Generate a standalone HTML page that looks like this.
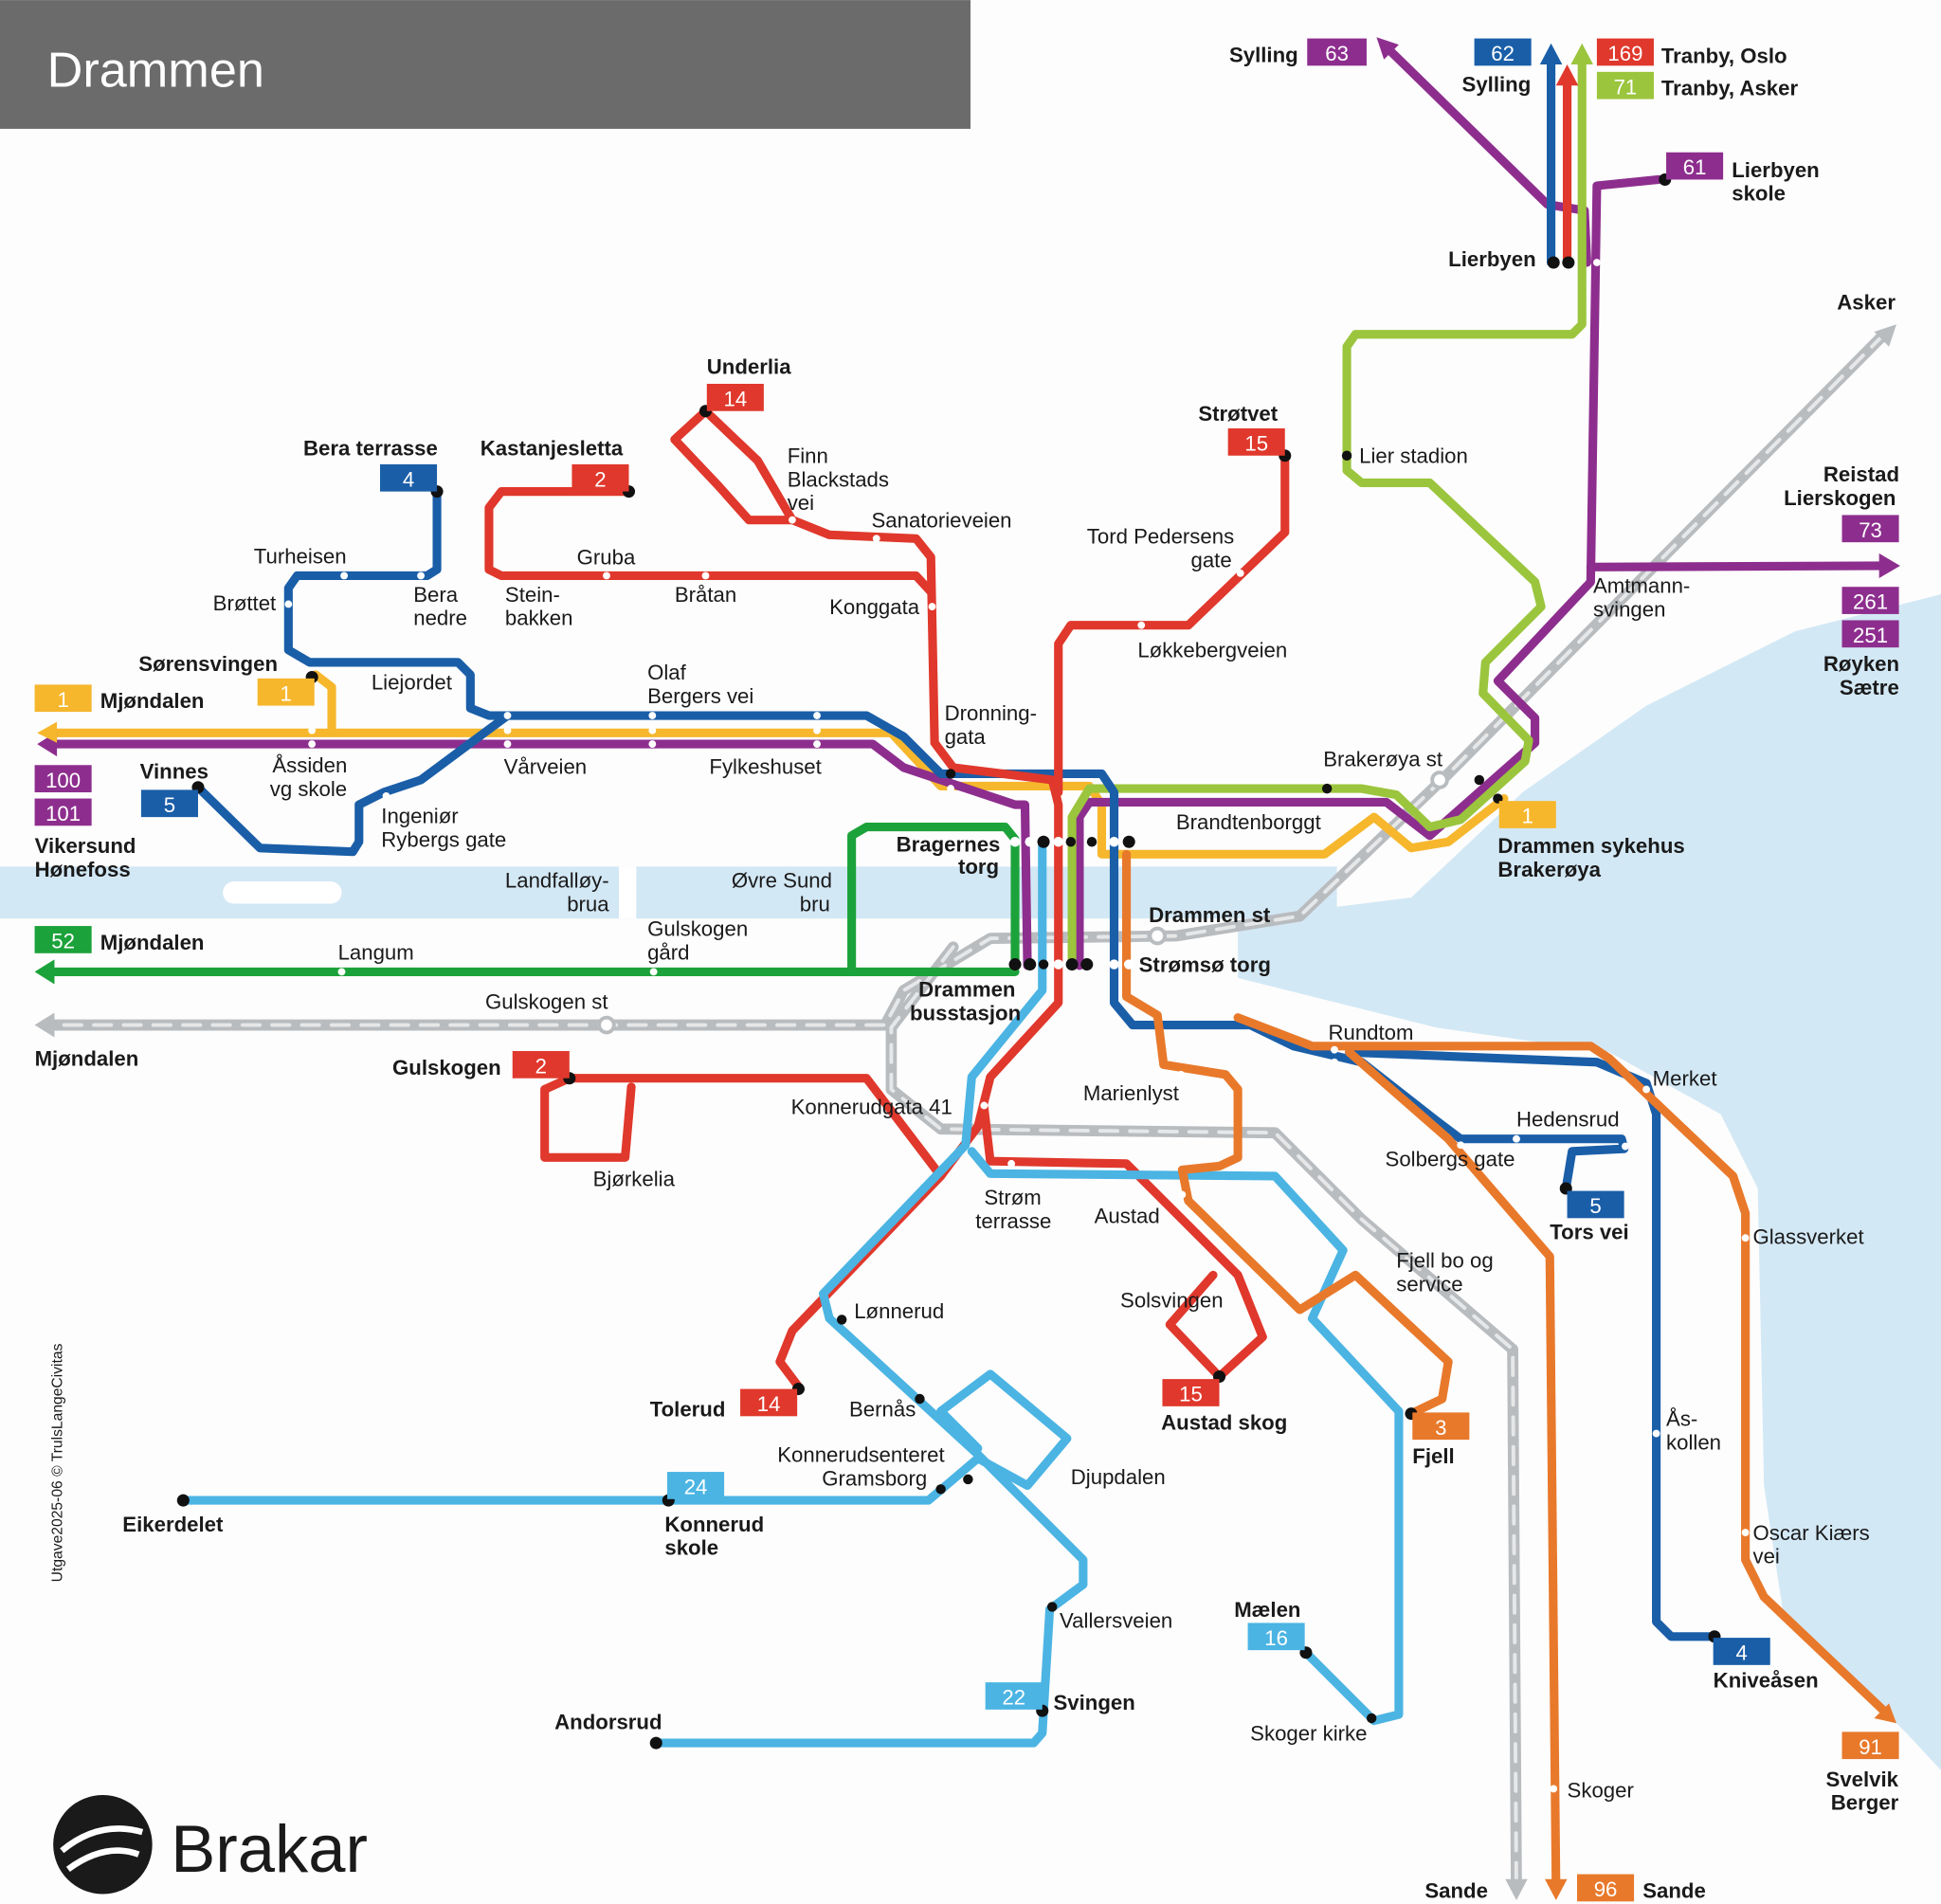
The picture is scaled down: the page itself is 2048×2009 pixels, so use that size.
<!DOCTYPE html>
<html><head><meta charset="utf-8"><style>
html,body{margin:0;padding:0;background:#fdfdfd}
svg{display:block}
text{font-family:"Liberation Sans",sans-serif;font-size:17px;fill:#1a1a1a}
.b{font-weight:bold}
.n{fill:#fff;font-size:17px;text-anchor:middle}
</style></head><body>
<svg width="2048" height="2009" viewBox="0 0 1568 1538" xmlns="http://www.w3.org/2000/svg">
<rect width="1568" height="1538" fill="#fdfdfd"/>
<!-- water -->
<g fill="#d3e8f5">
<rect x="0" y="700" width="1080" height="42"/>
<polygon points="1000,745 1060,735 1140,725 1230,640 1330,570 1450,510 1568,480 1568,1430 1540,1400 1440,1300 1425,1200 1420,960 1390,900 1300,850 1160,830 1060,805 1000,790"/>
</g>
<rect x="180" y="712" width="96" height="18" rx="9" fill="#fff"/>
<rect x="500" y="700" width="14" height="42" fill="#fff"/>
<!-- header -->
<rect x="0" y="0" width="784" height="104" fill="#6b6b6b"/>
<text x="38" y="70" style="font-size:40px;fill:#fff">Drammen</text>
<!-- railway -->
<g fill="none" stroke-linejoin="round" stroke-linecap="round">
<g stroke="#b9bcbf" stroke-width="9">
<polyline points="1522,270 1170,625 1050,740 950,756 800,758 730,800 715,828 40,828"/>
<polyline points="770,765 720,830 720,880 760,912 1030,915 1100,985 1222,1090 1225,1525"/>
</g>
<g stroke="#e6e7e8" stroke-width="3" stroke-dasharray="14 10">
<polyline points="1522,270 1170,625 1050,740 950,756 800,758 730,800 715,828 40,828"/>
<polyline points="770,765 720,830 720,880 760,912 1030,915 1100,985 1222,1090 1225,1525"/>
</g>
<g stroke-width="7">
<!-- yellow -->
<polyline stroke="#f6b72d" points="45,592 720,592 760,635 880,635 890,650 890,690 1070,690 1110,660 1140,685 1170,680 1215,645"/>
<polyline stroke="#f6b72d" points="255,545 268,555 268,590"/>
<!-- purple -->
<polyline stroke="#8d2e8e" points="40,601 705,601 730,620 820,650 828,650 830,780"/>
<polyline stroke="#8d2e8e" points="872,780 872,660 880,648 1120,648 1155,675 1240,600 1240,580 1210,550 1285,470 1290,150 1340,145"/>
<polyline stroke="#8d2e8e" points="1285,458 1525,457"/>
<polyline stroke="#8d2e8e" points="1120,38 1250,165 1280,170 1282,212"/>
<!-- lime -->
<polyline stroke="#9bc53d" points="1278,45 1278,262 1270,270 1095,270 1088,280 1088,380 1100,390 1155,390 1240,470 1245,490 1200,535 1198,560 1235,598 1232,615 1180,662 1155,668 1128,642 1100,637 880,637 866,660 866,780"/>
<!-- blue -->
<polyline stroke="#1a5ea8" points="1253,45 1253,212"/>
<polyline stroke="#e0382c" points="1266,62 1266,212"/>
<polyline stroke="#1a5ea8" points="353,397 353,460 345,465 240,465 233,475 233,525 250,535 370,535 380,545 380,572 395,578 700,578 730,595 760,625 890,625 900,640 900,810 915,828 1010,828 1045,845 1100,858 1160,905 1180,920 1310,920 1312,928 1270,930 1265,960"/>
<polyline stroke="#1a5ea8" points="1090,850 1290,858 1330,875 1338,900 1338,1310 1350,1322 1385,1322"/>
<polyline stroke="#1a5ea8" points="160,636 210,685 285,688 290,680 290,650 310,640 340,630 410,578"/>
<!-- red -->
<polyline stroke="#e0382c" points="570,332 612,372 640,420 670,432 740,435 752,450 755,600 770,620 850,630 855,650 855,810 800,870 790,910 760,950 640,1075 630,1100 645,1120"/>
<polyline stroke="#e0382c" points="570,332 545,355 580,392 605,420 640,420"/>
<polyline stroke="#e0382c" points="508,397 405,397 395,410 395,460 405,465 740,465 752,478"/>
<polyline stroke="#e0382c" points="1038,368 1038,430 960,505 865,505 855,520 855,640"/>
<polyline stroke="#e0382c" points="460,871 700,871 760,950"/>
<polyline stroke="#e0382c" points="460,871 440,880 440,935 505,935 510,878"/>
<polyline stroke="#e0382c" points="795,895 800,938 910,940 1000,1030 1020,1080 985,1112 945,1070 980,1030"/>
<!-- light blue -->
<polyline stroke="#4bb4e3" points="842,680 842,800 785,870 780,925 665,1045 670,1065 790,1175 875,1260 875,1280 848,1300 842,1400 835,1408 530,1408"/>
<polyline stroke="#4bb4e3" points="148,1212 750,1212 790,1178 830,1200 862,1162 800,1110 760,1140 790,1170"/>
<polyline stroke="#4bb4e3" points="785,930 800,948 1030,950 1085,1010 1060,1065 1130,1140 1130,1385 1110,1390 1055,1335"/>
<!-- orange -->
<polyline stroke="#e8792b" points="910,690 910,805 935,820 940,860 990,868 1000,880 1000,935 985,942 955,945 960,970 1050,1058 1095,1030 1170,1100 1165,1130 1140,1142"/>
<polyline stroke="#e8792b" points="1000,822 1060,845 1285,845 1300,855 1400,950 1410,980 1410,1260 1425,1290 1525,1385"/>
<polyline stroke="#e8792b" points="1090,850 1170,920 1252,1015 1257,1525"/>
<!-- green -->
<polyline stroke="#1ca23a" points="40,785 820,785"/>
<polyline stroke="#1ca23a" points="688,785 688,675 700,668 812,668 820,678 820,780"/>
</g>
</g>
<!-- arrowheads -->
<g fill="#8d2e8e"><polygon points="30,601 46,591 46,611"/><polygon points="1535,457 1518,447 1518,467"/><polygon points="1112,30 1130,36 1118,48"/></g>
<polygon points="30,592 46,583 46,600" fill="#f6b72d"/>
<polygon points="28,785 44,775 44,795" fill="#1ca23a"/>
<polygon points="28,828 44,818 44,838" fill="#b9bcbf"/>
<polygon points="1532,262 1514,268 1526,280" fill="#b9bcbf"/>
<polygon points="1225,1535 1216,1518 1234,1518" fill="#b9bcbf"/>
<polygon points="1257,1535 1248,1518 1266,1518" fill="#e8792b"/>
<polygon points="1532,1392 1514,1388 1526,1376" fill="#e8792b"/>
<polygon points="1253,35 1244,52 1262,52" fill="#1a5ea8"/>
<polygon points="1266,52 1257,69 1275,69" fill="#e0382c"/>
<polygon points="1278,35 1269,52 1287,52" fill="#9bc53d"/>
<!-- stops -->
<g fill="#111">
<circle cx="570" cy="332" r="5"/><circle cx="508" cy="397" r="5"/><circle cx="353" cy="397" r="5"/><circle cx="1038" cy="368" r="5"/>
<circle cx="252" cy="547" r="5"/><circle cx="160" cy="636" r="5"/><circle cx="460" cy="871" r="5"/><circle cx="645" cy="1122" r="5"/>
<circle cx="985" cy="1112" r="5"/><circle cx="1140" cy="1142" r="5"/><circle cx="1055" cy="1335" r="5"/><circle cx="842" cy="1382" r="5"/>
<circle cx="530" cy="1408" r="5"/><circle cx="148" cy="1212" r="5"/><circle cx="540" cy="1212" r="5"/><circle cx="1385" cy="1322" r="5"/>
<circle cx="1265" cy="960" r="5"/><circle cx="1345" cy="145" r="5"/><circle cx="1255" cy="212" r="5"/><circle cx="1267" cy="212" r="5"/>
<circle cx="1195" cy="630" r="4"/><circle cx="1210" cy="645" r="4"/><circle cx="768" cy="625" r="4"/>
<circle cx="843" cy="680" r="5"/><circle cx="865" cy="680" r="4"/><circle cx="882" cy="680" r="4"/><circle cx="912" cy="680" r="5"/>
<circle cx="820" cy="779" r="5"/><circle cx="832" cy="779" r="5"/><circle cx="843" cy="779" r="4"/><circle cx="866" cy="779" r="5"/><circle cx="878" cy="779" r="5"/>
<circle cx="1088" cy="368" r="4"/><circle cx="1072" cy="637" r="4"/><circle cx="680" cy="1066" r="4"/><circle cx="743" cy="1130" r="4"/>
<circle cx="760" cy="1203" r="4"/><circle cx="782" cy="1195" r="4"/><circle cx="850" cy="1298" r="4"/><circle cx="1108" cy="1388" r="4"/>
</g>
<g fill="#fff">
<circle cx="1163" cy="630" r="6" stroke="#b9bcbf" stroke-width="3"/><circle cx="935" cy="756" r="6" stroke="#b9bcbf" stroke-width="3"/><circle cx="490" cy="828" r="6" stroke="#b9bcbf" stroke-width="3"/>
<circle cx="820" cy="680" r="4"/><circle cx="832" cy="680" r="4"/><circle cx="855" cy="680" r="4"/><circle cx="900" cy="680" r="4"/><circle cx="855" cy="779" r="4"/><circle cx="900" cy="779" r="4"/><circle cx="912" cy="779" r="4"/>
<circle cx="278" cy="465" r="3"/><circle cx="340" cy="465" r="3"/><circle cx="233" cy="488" r="3"/><circle cx="490" cy="465" r="3"/><circle cx="570" cy="465" r="3"/><circle cx="753" cy="490" r="3"/>
<circle cx="410" cy="578" r="3"/><circle cx="527" cy="578" r="3"/><circle cx="660" cy="578" r="3"/><circle cx="252" cy="590" r="3"/><circle cx="410" cy="590" r="3"/><circle cx="527" cy="590" r="3"/><circle cx="660" cy="590" r="3"/>
<circle cx="252" cy="601" r="3"/><circle cx="410" cy="601" r="3"/><circle cx="527" cy="601" r="3"/><circle cx="660" cy="601" r="3"/><circle cx="768" cy="637" r="3"/>
<circle cx="312" cy="643" r="3"/><circle cx="276" cy="785" r="3"/><circle cx="528" cy="785" r="3"/><circle cx="640" cy="420" r="3"/><circle cx="708" cy="435" r="3"/>
<circle cx="922" cy="505" r="3"/><circle cx="1002" cy="463" r="3"/><circle cx="1278" cy="468" r="3"/><circle cx="1290" cy="212" r="3"/><circle cx="1078" cy="848" r="3"/><circle cx="1078" cy="858" r="3"/>
<circle cx="1225" cy="920" r="3"/><circle cx="1313" cy="926" r="3"/><circle cx="1330" cy="880" r="3"/><circle cx="1410" cy="1000" r="3"/><circle cx="1410" cy="1238" r="3"/><circle cx="1338" cy="1158" r="3"/>
<circle cx="1180" cy="925" r="3"/><circle cx="1255" cy="1445" r="3"/><circle cx="1128" cy="1018" r="3"/><circle cx="954" cy="868" r="3"/><circle cx="817" cy="940" r="3"/><circle cx="955" cy="965" r="3"/><circle cx="795" cy="893" r="3"/>
</g>
<!-- route number boxes -->
<g>
<rect x="1056" y="31" width="48" height="22" fill="#8d2e8e"/><text class="n" x="1080" y="49">63</text>
<rect x="1191" y="31" width="46" height="22" fill="#1a5ea8"/><text class="n" x="1214" y="49">62</text>
<rect x="1290" y="31" width="46" height="22" fill="#e0382c"/><text class="n" x="1313" y="49">169</text>
<rect x="1290" y="58" width="46" height="22" fill="#9bc53d"/><text class="n" x="1313" y="76">71</text>
<rect x="1346" y="123" width="46" height="22" fill="#8d2e8e"/><text class="n" x="1369" y="141">61</text>
<rect x="571" y="310" width="46" height="22" fill="#e0382c"/><text class="n" x="594" y="328">14</text>
<rect x="462" y="375" width="46" height="22" fill="#e0382c"/><text class="n" x="485" y="393">2</text>
<rect x="307" y="375" width="46" height="22" fill="#1a5ea8"/><text class="n" x="330" y="393">4</text>
<rect x="992" y="346" width="46" height="22" fill="#e0382c"/><text class="n" x="1015" y="364">15</text>
<rect x="1488" y="416" width="46" height="22" fill="#8d2e8e"/><text class="n" x="1511" y="434">73</text>
<rect x="1488" y="474" width="46" height="22" fill="#8d2e8e"/><text class="n" x="1511" y="492">261</text>
<rect x="1488" y="501" width="46" height="22" fill="#8d2e8e"/><text class="n" x="1511" y="519">251</text>
<rect x="28" y="553" width="46" height="22" fill="#f6b72d"/><text class="n" x="51" y="571">1</text>
<rect x="208" y="548" width="46" height="22" fill="#f6b72d"/><text class="n" x="231" y="566">1</text>
<rect x="28" y="618" width="46" height="22" fill="#8d2e8e"/><text class="n" x="51" y="636">100</text>
<rect x="28" y="645" width="46" height="22" fill="#8d2e8e"/><text class="n" x="51" y="663">101</text>
<rect x="114" y="638" width="46" height="22" fill="#1a5ea8"/><text class="n" x="137" y="656">5</text>
<rect x="28" y="748" width="46" height="22" fill="#1ca23a"/><text class="n" x="51" y="766">52</text>
<rect x="1211" y="647" width="46" height="22" fill="#f6b72d"/><text class="n" x="1234" y="665">1</text>
<rect x="414" y="849" width="46" height="22" fill="#e0382c"/><text class="n" x="437" y="867">2</text>
<rect x="1266" y="962" width="46" height="22" fill="#1a5ea8"/><text class="n" x="1289" y="980">5</text>
<rect x="598" y="1122" width="46" height="22" fill="#e0382c"/><text class="n" x="621" y="1140">14</text>
<rect x="939" y="1114" width="46" height="22" fill="#e0382c"/><text class="n" x="962" y="1132">15</text>
<rect x="1141" y="1141" width="46" height="22" fill="#e8792b"/><text class="n" x="1164" y="1159">3</text>
<rect x="539" y="1189" width="46" height="22" fill="#4bb4e3"/><text class="n" x="562" y="1207">24</text>
<rect x="1008" y="1311" width="46" height="22" fill="#4bb4e3"/><text class="n" x="1031" y="1329">16</text>
<rect x="1384" y="1323" width="46" height="22" fill="#1a5ea8"/><text class="n" x="1407" y="1341">4</text>
<rect x="796" y="1359" width="46" height="22" fill="#4bb4e3"/><text class="n" x="819" y="1377">22</text>
<rect x="1488" y="1399" width="46" height="22" fill="#e8792b"/><text class="n" x="1511" y="1417">91</text>
<rect x="1274" y="1514" width="46" height="22" fill="#e8792b"/><text class="n" x="1297" y="1532">96</text>
</g>
<!-- labels -->
<g class="b">
<text class="b" x="993" y="50">Sylling</text><text class="b" x="1181" y="74">Sylling</text>
<text class="b" x="1342" y="51">Tranby, Oslo</text><text class="b" x="1342" y="77">Tranby, Asker</text>
<text class="b" x="1399" y="143">Lierbyen</text><text class="b" x="1399" y="162">skole</text>
<text class="b" x="1170" y="215">Lierbyen</text><text class="b" x="1484" y="250">Asker</text>
<text class="b" x="1473" y="389">Reistad</text><text class="b" x="1441" y="408">Lierskogen</text>
<text class="b" x="1473" y="542">Røyken</text><text class="b" x="1486" y="561">Sætre</text>
<text class="b" x="571" y="302">Underlia</text><text class="b" x="388" y="368">Kastanjesletta</text><text class="b" x="245" y="368">Bera terrasse</text>
<text class="b" x="968" y="340">Strøtvet</text><text class="b" x="112" y="542">Sørensvingen</text>
<text class="b" x="81" y="572">Mjøndalen</text><text class="b" x="113" y="629">Vinnes</text>
<text class="b" x="28" y="689">Vikersund</text><text class="b" x="28" y="708">Hønefoss</text>
<text class="b" x="81" y="767">Mjøndalen</text><text class="b" x="28" y="861">Mjøndalen</text>
<text class="b" x="724" y="688">Bragernes</text><text class="b" x="774" y="706">torg</text>
<text class="b" x="742" y="805">Drammen</text><text class="b" x="735" y="824">busstasjon</text>
<text class="b" x="928" y="745">Drammen st</text><text class="b" x="920" y="785">Strømsø torg</text>
<text class="b" x="1210" y="689">Drammen sykehus</text><text class="b" x="1210" y="708">Brakerøya</text>
<text class="b" x="317" y="868">Gulskogen</text><text class="b" x="1252" y="1001">Tors vei</text>
<text class="b" x="525" y="1144">Tolerud</text><text class="b" x="938" y="1155">Austad skog</text><text class="b" x="1141" y="1182">Fjell</text>
<text class="b" x="99" y="1237">Eikerdelet</text><text class="b" x="537" y="1237">Konnerud</text><text class="b" x="537" y="1256">skole</text>
<text class="b" x="997" y="1306">Mælen</text><text class="b" x="1384" y="1363">Kniveåsen</text><text class="b" x="851" y="1381">Svingen</text>
<text class="b" x="448" y="1397">Andorsrud</text><text class="b" x="1475" y="1443">Svelvik</text><text class="b" x="1479" y="1462">Berger</text>
<text class="b" x="1151" y="1533">Sande</text><text class="b" x="1327" y="1533">Sande</text>
</g>
<g>
<text x="636" y="374">Finn</text><text x="636" y="393">Blackstads</text><text x="636" y="412">vei</text>
<text x="704" y="426">Sanatorieveien</text><text x="466" y="456">Gruba</text><text x="545" y="486">Bråtan</text>
<text x="408" y="486">Stein-</text><text x="408" y="505">bakken</text><text x="670" y="496">Konggata</text>
<text x="205" y="455">Turheisen</text><text x="172" y="493">Brøttet</text><text x="334" y="486">Bera</text><text x="334" y="505">nedre</text>
<text x="300" y="557">Liejordet</text><text x="523" y="549">Olaf</text><text x="523" y="568">Bergers vei</text>
<text x="220" y="624">Åssiden</text><text x="218" y="643">vg skole</text><text x="407" y="625">Vårveien</text><text x="573" y="625">Fylkeshuset</text>
<text x="308" y="665">Ingeniør</text><text x="308" y="684">Rybergs gate</text>
<text x="763" y="582">Dronning-</text><text x="763" y="601">gata</text>
<text x="878" y="439">Tord Pedersens</text><text x="962" y="458">gate</text><text x="919" y="531">Løkkebergveien</text>
<text x="1098" y="374">Lier stadion</text><text x="1287" y="479">Amtmann-</text><text x="1287" y="498">svingen</text>
<text x="1069" y="619">Brakerøya st</text><text x="950" y="670">Brandtenborggt</text>
<text x="408" y="717">Landfalløy-</text><text x="458" y="736">brua</text><text x="591" y="717">Øvre Sund</text><text x="646" y="736">bru</text>
<text x="523" y="756">Gulskogen</text><text x="523" y="775">gård</text><text x="273" y="775">Langum</text><text x="392" y="815">Gulskogen st</text>
<text x="1073" y="840">Rundtom</text><text x="1335" y="877">Merket</text><text x="875" y="889">Marienlyst</text>
<text x="639" y="900">Konnerudgata 41</text><text x="1225" y="910">Hedensrud</text><text x="1119" y="942">Solbergs gate</text>
<text x="479" y="958">Bjørkelia</text><text x="795" y="973">Strøm</text><text x="788" y="992">terrasse</text><text x="884" y="988">Austad</text>
<text x="1416" y="1005">Glassverket</text><text x="1128" y="1024">Fjell bo og</text><text x="1128" y="1043">service</text>
<text x="905" y="1056">Solsvingen</text><text x="690" y="1065">Lønnerud</text><text x="686" y="1144">Bernås</text>
<text x="1346" y="1152">Ås-</text><text x="1346" y="1171">kollen</text>
<text x="628" y="1181">Konnerudsenteret</text><text x="664" y="1200">Gramsborg</text><text x="865" y="1199">Djupdalen</text>
<text x="1416" y="1244">Oscar Kiærs</text><text x="1416" y="1263">vei</text><text x="856" y="1315">Vallersveien</text>
<text x="1010" y="1406">Skoger kirke</text><text x="1266" y="1452">Skoger</text>
</g>
<text x="50" y="1278" transform="rotate(-90 50 1278)" style="font-size:12px">Utgave2025-06 © TrulsLangeCivitas</text>
<!-- logo -->
<circle cx="83" cy="1490" r="40" fill="#1a1a1a"/>
<path d="M50,1495 Q80,1470 115,1480 M55,1510 Q85,1488 112,1498" stroke="#fff" stroke-width="5" fill="none"/>
<text x="138" y="1512" style="font-size:54px;fill:#1a1a1a">Brakar</text>
</svg>
</body></html>
